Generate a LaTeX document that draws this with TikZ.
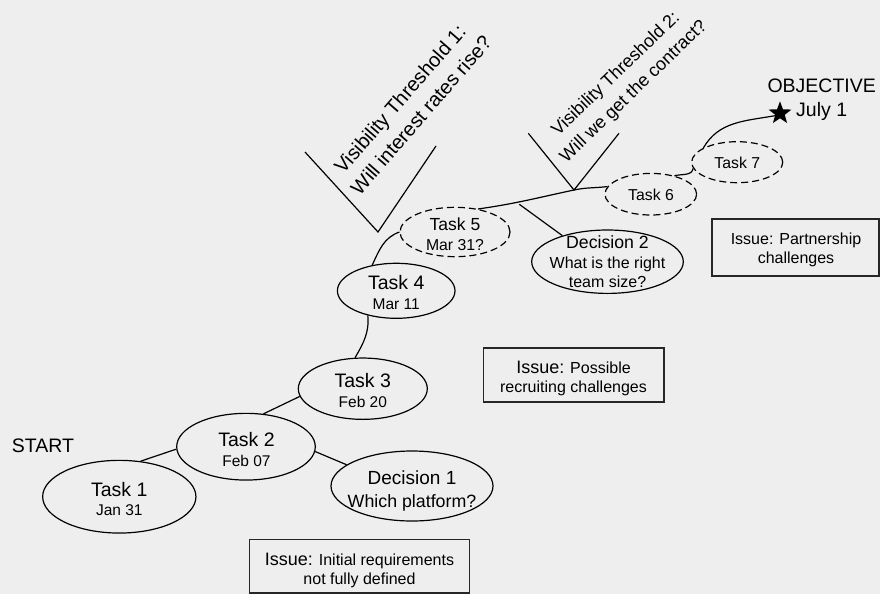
\documentclass[tikz,border=0pt]{standalone}
\usepackage{fontspec}
\setmainfont{Liberation Sans}
\usetikzlibrary{shapes.geometric}
\definecolor{paper}{HTML}{EEEEEE}

\newcommand\fs[1]{\fontsize{#1}{1.2\dimexpr#1pt\relax}\selectfont}

\tikzset{
  oval/.style={ellipse, draw, line width=1.2pt, inner sep=0pt},
  dashedoval/.style={oval, dash pattern=on 7pt off 4pt},
  link/.style={line width=1.2pt},
  issuebox/.style={draw=black!85, line width=1.5pt, inner sep=0pt},
  txt/.style={anchor=base, inner sep=0pt, font=\fs{#1}},
  txt/.default=19.5,
  lefttxt/.style={anchor=base west, inner sep=0pt, font=\fs{19.5}},
}

\begin{document}
\begin{tikzpicture}[x=1pt, y=-1pt]
  % canvas
  \fill[paper] (0,0) rectangle (880,594);
  \useasboundingbox (0,0) rectangle (880,594);

  % tasks and decisions
  \node[oval, minimum width=153.3pt, minimum height=72.7pt] (t1) at (119.3,496.7) {};
  \node[oval, minimum width=138.6pt, minimum height=66.7pt] (t2) at (246,446.7) {};
  \node[oval, minimum width=129pt, minimum height=61.3pt] (t3) at (362.8,388.7) {};
  \node[oval, minimum width=162pt, minimum height=70pt] (d1) at (412,486) {};
  \node[oval, minimum width=117.6pt, minimum height=55pt] (t4) at (396.2,290.8) {};
  \node[dashedoval, minimum width=110pt, minimum height=49.4pt] (t5) at (455,232) {};
  \node[oval, minimum width=151.6pt, minimum height=63.4pt] (d2) at (607.5,261.7) {};
  \node[dashedoval, minimum width=91.6pt, minimum height=41.6pt] (t6) at (650.8,194.2) {};
  \node[dashedoval, minimum width=91pt, minimum height=41pt] (t7) at (737.2,162.2) {};

  % texts inside the ovals
  \node[txt] (t1a) at (119.3,496) {Task 1};
  \node[txt=15.5] (t1b) at (119.3,515.3) {Jan 31};
  \node[txt] (t2a) at (246.5,446) {Task 2};
  \node[txt=15.5] (t2b) at (246.5,466) {Feb 07};
  \node[txt] (t3a) at (362.8,387.7) {Task 3};
  \node[txt=15.5] (t3b) at (362.8,407) {Feb 20};
  \node[txt] (t4a) at (396.2,289.3) {Task 4};
  \node[txt=15.5] (t4b) at (396.2,309.3) {Mar 11};
  \node[txt=17.5] (t5a) at (455,230) {Task 5};
  \node[txt=15.8] (t5b) at (455,250) {Mar 31?};
  \node[txt=19] (d1a) at (412,484) {Decision 1};
  \node[txt=17.8] (d1b) at (412,507) {Which platform?};
  \node[txt=17.7] (d2a) at (607.5,248.3) {Decision 2};
  \node[txt=16] (d2b) at (607.5,268.3) {What is the right};
  \node[txt=16] (d2c) at (607.5,287) {team size?};
  \node[txt=15.8] (t6a) at (651,200.6) {Task 6};
  \node[txt=15.8] (t7a) at (737.3,168) {Task 7};

  % start and objective
  \node[lefttxt] (start) at (11.7,452.7) {START};
  \node[lefttxt] (objective) at (767.3,92.7) {OBJECTIVE};
  \node[lefttxt] (goaldate) at (796,116.7) {July 1};
  \node[star, star points=5, star point ratio=2.4, fill=black, inner sep=0pt, minimum size=24pt] (goal) at (780,113.3) {};

  % issue boxes
  \node[issuebox, minimum width=220pt, minimum height=53.3pt] (i1) at (359.3,566.3) {};
  \node[txt=16] (i1a) at (359.5,565) {{\fs{18}Issue:} Initial requirements};
  \node[txt=16] (i1b) at (359.5,584) {not fully defined};
  \node[issuebox, minimum width=180.7pt, minimum height=54.3pt] (i2) at (573.7,374.9) {};
  \node[txt=16] (i2a) at (573.5,373) {{\fs{18}Issue:} Possible};
  \node[txt=16] (i2b) at (573.5,392) {recruiting challenges};
  \node[issuebox, minimum width=167pt, minimum height=57pt] (i3) at (795.5,247.5) {};
  \node[txt=16] (i3a) at (796,244.5) {Issue: Partnership};
  \node[txt=16] (i3b) at (796,263.5) {challenges};

  % visibility thresholds
  \coordinate (v1l) at (305,152);
  \coordinate (v1) at (378,232);
  \coordinate (v1r) at (436,146);
  \coordinate (v2l) at (528.3,133.3);
  \coordinate (v2) at (574,190);
  \coordinate (v2r) at (619,133.3);
  \draw[link] (v1l) -- (v1) -- (v1r);
  \draw[link] (v2l) -- (v2) -- (v2r);
  \node[txt=20, rotate=49] (vt1a) at (405.3,103.7) {Visibility Threshold 1:};
  \node[txt=20, rotate=49] (vt1b) at (426.3,119.7) {Will interest rates rise?};
  \node[txt=18, rotate=44] (vt2a) at (619.4,77.6) {Visibility Threshold 2:};
  \node[txt=18, rotate=44] (vt2b) at (637.2,95.2) {Will we get the contract?};

  % path through the plan
  \draw[link] (t1.59) -- (t2.182);
  \draw[link] (t2.62) -- (t3.187);
  \draw[link] (t2.-4) -- (d1.162);
  \draw[link] (t4.221) to[out=-85,in=60] (t3.104);
  \draw[link] (t4.133) to[out=65,in=200] (t5.180);
  \draw[link] (t5.45) to[out=8,in=192] (v2) to[out=12,in=187] (t6.170);
  \coordinate (d2root) at (519.3,204.3);
  \draw[link] (d2root) -- (d2.150);
  \draw[link] (t6.38) to[out=15,in=-100] (t7.188);
  \draw[link] (t7.157) to[out=60,in=190] (goal.205);
\end{tikzpicture}
\end{document}
